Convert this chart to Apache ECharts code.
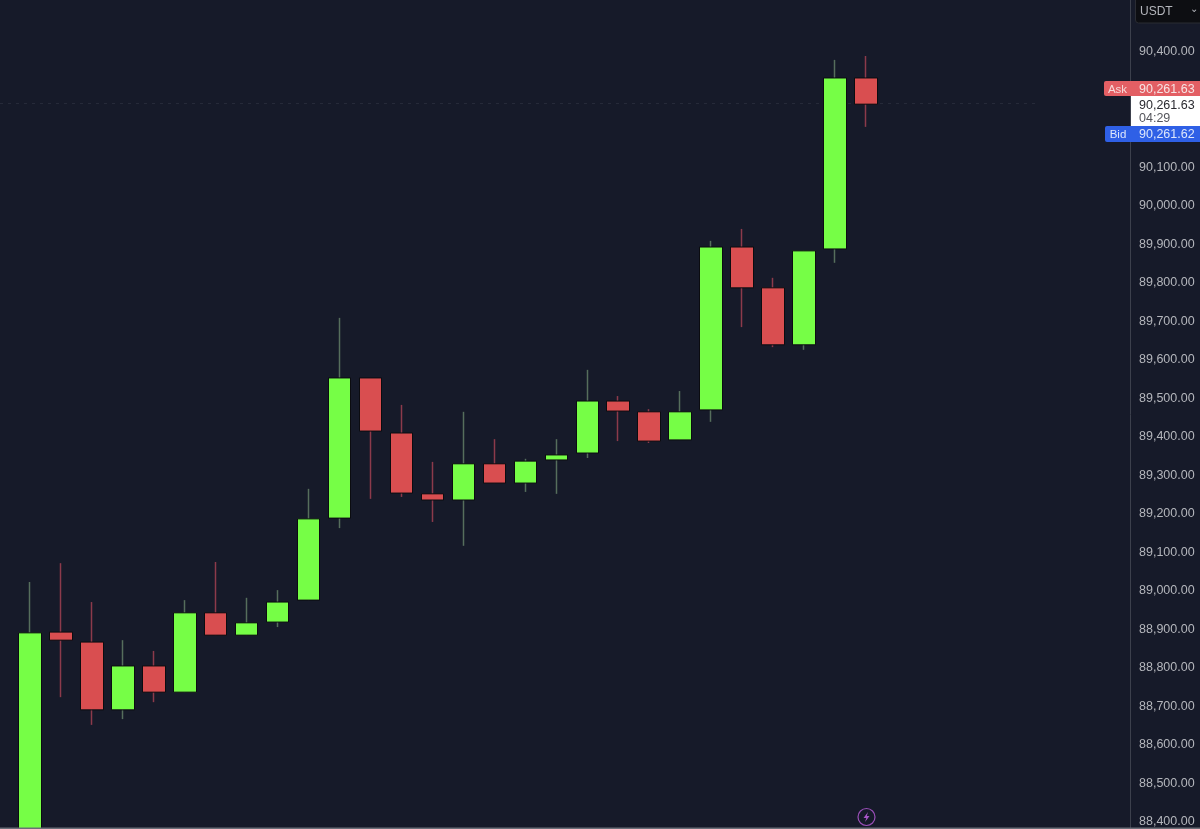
<!DOCTYPE html>
<html>
<head>
<meta charset="utf-8">
<style>html,body{margin:0;padding:0;background:#161a29;overflow:hidden}#c{width:1200px;height:829px}</style>
<script src="https://cdn.jsdelivr.net/npm/echarts@6/dist/echarts.min.js"></script>
</head>
<body>
<div id="c"></div>
<script>
const categories = Array.from({length: 36}, (_, i) => 'C' + (i + 1));
const opens  = [88300,88888,88862,88686,88800,88732,88938,88880,88914,88971,89184,89548,89405,89247,89231,89325,89275,89335,89353,89488,89460,89387,89465,89888,89782,89634,89883,90327];
const closes = [88886,88867,88686,88800,88732,88938,88880,88912,88966,89182,89548,89410,89249,89231,89325,89275,89332,89348,89488,89462,89384,89460,89888,89782,89634,89878,90327,90259];
const lows   = [88300,88719,88647,88662,88706,88732,88880,88880,88901,88971,89158,89234,89239,89174,89112,89275,89252,89247,89340,89384,89379,89387,89434,89680,89628,89621,89847,90200];
const highs  = [89018,89067,88966,88867,88839,88971,89070,88977,88997,89260,89704,89548,89478,89330,89460,89389,89338,89389,89569,89501,89467,89514,89904,89935,89808,89878,90374,90384];
const tickValues = [88400,88500,88600,88700,88800,88900,89000,89100,89200,89300,89400,89500,89600,89700,89800,89900,90000,90100,90400];
const askPrice = 90261.63;
const bidPrice = 90261.62;
const lastPrice = 90261.63;
const countdown = '04:29';
const currency = 'USDT';

const GREEN = '#76fe46', RED = '#d94e50', EDGE = '#0b0c10';
const font = '"Liberation Sans", Arial, sans-serif';
const fmt = v => v.toLocaleString('en-US', {minimumFractionDigits: 2, maximumFractionDigits: 2});

const wickData = opens.map((o, i) => [o, closes[i], lows[i], highs[i]]);
const bodyData = opens.map((o, i) => {
  const a = Math.min(o, closes[i]), b = Math.max(o, closes[i]);
  return [o, closes[i], a, b];
});

const chart = echarts.init(document.getElementById('c'), null, {renderer: 'canvas'});
chart.setOption({
  animation: false,
  backgroundColor: '#161a29',
  grid: {left: 14.5, right: 70.9, top: 0, bottom: 0},
  xAxis: {
    type: 'category', data: categories, boundaryGap: true,
    axisLine: {show: false}, axisTick: {show: false}, axisLabel: {show: false}, splitLine: {show: false}
  },
  yAxis: {
    type: 'value', position: 'right', offset: 1.4, min: 88376.6, max: 90529.5,
    axisLine: {show: true, lineStyle: {color: '#3c404c', width: 1}},
    axisTick: {show: false},
    splitLine: {show: false},
    axisLabel: {
      customValues: tickValues, color: '#b4b6bc', fontFamily: font, fontSize: 12.5,
      margin: 8.5, formatter: v => '{p|' + fmt(v) + '}',
      rich: {p: {color: '#b4b6bc', fontFamily: font, fontSize: 12.5, padding: [4, 0, 0, 0]}}
    }
  },
  series: [
    {
      name: 'Wicks', type: 'candlestick', barWidth: 1, data: wickData, silent: true, clip: true, z: 2,
      itemStyle: {color: '#566e5c', color0: '#8c3a4b', borderColor: '#566e5c', borderColor0: '#8c3a4b', borderWidth: 1.5},
      markLine: {
        silent: true, symbol: 'none', label: {show: false}, z: 1,
        lineStyle: {color: '#262a39', type: [3, 5], width: 1},
        data: [[{x: 0, yAxis: lastPrice}, {x: 1040, yAxis: lastPrice}]]
      }
    },
    {
      name: 'Bodies', type: 'candlestick', barWidth: 23, data: bodyData, silent: true, clip: true, z: 3,
      itemStyle: {color: GREEN, color0: RED, borderColor: EDGE, borderColor0: EDGE, borderWidth: 1}
    }
  ],
  graphic: [
    {type: 'rect', z: 100, shape: {x: 1135.5, y: -4, width: 70, height: 27, r: 3}, style: {fill: '#0d0e12', stroke: '#2a2c33', lineWidth: 1}},
    {type: 'text', z: 101, x: 1140, y: 12, style: {text: currency, fill: '#b4b6bc', font: '12px ' + font, textVerticalAlign: 'middle', letterSpacing: 0.5}},
    {type: 'text', z: 101, x: 1190, y: 9, style: {text: '⌄', fill: '#b4b6bc', font: '10px "DejaVu Sans"', textVerticalAlign: 'middle'}},

    {type: 'rect', z: 100, shape: {x: 1104, y: 81, width: 27, height: 15, r: [2, 0, 0, 2]}, style: {fill: '#e35f64'}},
    {type: 'rect', z: 100, shape: {x: 1131, y: 81, width: 69, height: 15}, style: {fill: '#e35f64'}},
    {type: 'text', z: 101, x: 1117.5, y: 90, style: {text: 'Ask', fill: '#f6dada', font: '11.5px ' + font, textAlign: 'center', textVerticalAlign: 'middle'}},
    {type: 'text', z: 101, x: 1139, y: 89.5, style: {text: fmt(askPrice), fill: '#f6e4e4', font: '12.5px ' + font, textVerticalAlign: 'middle'}},

    {type: 'rect', z: 100, shape: {x: 1131, y: 96, width: 69, height: 30}, style: {fill: '#ffffff'}},
    {type: 'text', z: 101, x: 1139, y: 105.5, style: {text: fmt(lastPrice), fill: '#2a2a30', font: '12.5px ' + font, textVerticalAlign: 'middle'}},
    {type: 'text', z: 101, x: 1139, y: 118.5, style: {text: countdown, fill: '#55565c', font: '12.5px ' + font, textVerticalAlign: 'middle'}},

    {type: 'rect', z: 100, shape: {x: 1105, y: 126, width: 26, height: 16, r: [2, 0, 0, 2]}, style: {fill: '#2f60e6'}},
    {type: 'rect', z: 100, shape: {x: 1131, y: 126, width: 69, height: 16}, style: {fill: '#2f60e6'}},
    {type: 'text', z: 101, x: 1118, y: 135, style: {text: 'Bid', fill: '#dde6fb', font: '11.5px ' + font, textAlign: 'center', textVerticalAlign: 'middle'}},
    {type: 'text', z: 101, x: 1139, y: 134.5, style: {text: fmt(bidPrice), fill: '#dde6fb', font: '12.5px ' + font, textVerticalAlign: 'middle'}},

    {type: 'circle', z: 100, shape: {cx: 866.5, cy: 817, r: 8.5}, style: {fill: 'transparent', stroke: '#9a4fb8', lineWidth: 1.2}},
    {type: 'polygon', z: 100, shape: {points: [[868, 812], [863.5, 818], [866.3, 818], [865, 822], [869.5, 816], [866.8, 816]]}, style: {fill: '#a855c8'}},
    {type: 'rect', z: 100, shape: {x: 0, y: 827.5, width: 1200, height: 1.5}, style: {fill: '#6b6e78'}}
  ]
});
</script>
</body>
</html>
